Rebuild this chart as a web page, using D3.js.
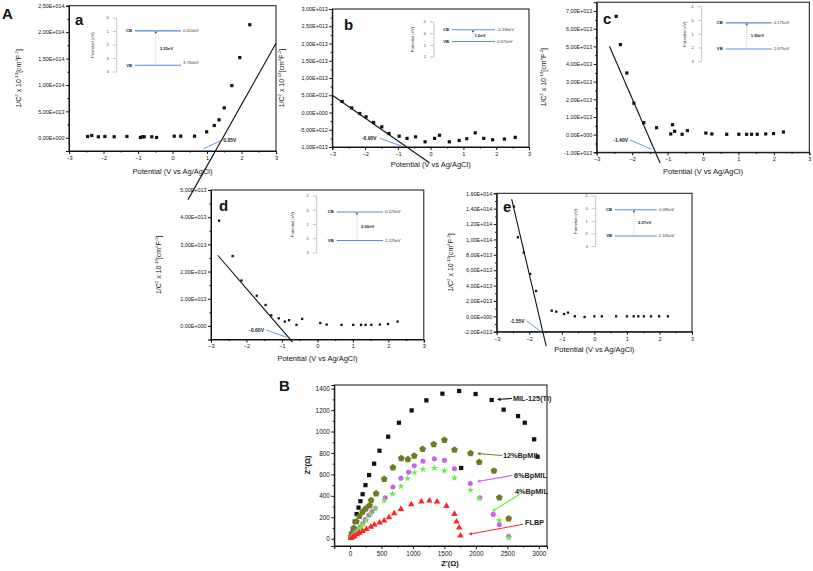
<!DOCTYPE html>
<html><head><meta charset="utf-8">
<script src="https://cdn.jsdelivr.net/npm/d3@7"></script>
<style>body{margin:0;background:#fff}svg{display:block}text{font-family:"Liberation Sans",Arial,sans-serif}</style>
</head><body><svg id="c" width="813" height="571"></svg>
<script>
// ---------------- DATA ----------------
const potTicks = [-3,-2,-1,0,1,2,3];
// panel a
const aX = [-2.46,-2.34,-2.15,-1.96,-1.69,-1.32,-0.93,-0.87,-0.82,-0.60,-0.46,0.05,0.24,0.64,0.99,1.21,1.35,1.50,1.72,1.95,2.24];
const aY = [2.5e12,4.4e12,1.9e12,2.5e12,1.9e12,2.5e12,0.6e12,1.9e12,1.9e12,1.9e12,0.6e12,3.1e12,3.1e12,3.1e12,11.3e12,23.3e12,34e12,56.7e12,98.9e12,151.8e12,214e12];
const aFit = [[0.45,-1.17e14],[3.0,1.79e14]];
// panel b
const bX = [-2.70,-2.41,-2.16,-1.97,-1.74,-1.49,-1.27,-0.96,-0.72,-0.46,-0.17,0.12,0.27,0.57,0.87,1.10,1.36,1.62,1.89,2.25,2.58];
const bY = [3.19e12,1.35e12,-0.29e12,-1.26e12,-2.9e12,-4.15e12,-6.1e12,-6.86e12,-7.5e12,-7.05e12,-8.5e12,-7.5e12,-6.6e12,-8.5e12,-8.1e12,-7.6e12,-5.9e12,-7.5e12,-7.9e12,-7.7e12,-7.2e12];
const bFit = [[-3,5.0e12],[-0.05,-14.5e12]];
// panel c
const cX = [-2.45,-2.33,-2.15,-1.95,-1.67,-1.31,-0.91,-0.86,-0.80,-0.59,-0.44,0.08,0.25,0.67,1.01,1.23,1.37,1.53,1.77,1.99,2.27];
const cY = [6.70e13,5.10e13,3.49e13,1.78e13,0.68e13,0.39e13,0.04e13,0.56e13,0.19e13,0.02e13,0.23e13,0.09e13,0.04e13,0.02e13,0.02e13,0.02e13,0.02e13,0.02e13,0.04e13,0.06e13,0.15e13];
const cFit = [[-2.64,5.01e13],[-1.21,-1.61e13]];
// panel d
const dX = [-2.77,-2.39,-2.14,-1.71,-1.46,-1.30,-1.09,-0.92,-0.80,-0.59,-0.43,0.08,0.26,0.68,1.01,1.23,1.36,1.52,1.76,1.99,2.26];
const dY = [3.87e13,2.57e13,1.67e13,1.11e13,0.77e13,0.39e13,0.28e13,0.16e13,0.21e13,0.04e13,0.26e13,0.11e13,0.05e13,0.04e13,0.04e13,0.04e13,0.04e13,0.04e13,0.05e13,0.07e13,0.16e13];
const dFit = [[-2.81,2.60e13],[-0.70,-0.6e13]];
// panel e
const eX = [-2.47,-2.35,-2.17,-1.97,-1.79,-1.31,-1.17,-0.93,-0.81,-0.60,-0.30,0.00,0.23,0.67,1.00,1.21,1.35,1.52,1.74,1.99,2.26];
const eY = [14.27e13,10.28e13,8.29e13,5.51e13,3.30e13,0.74e13,0.61e13,0.30e13,0.48e13,0,-0.09e13,0,0,0,0,0,0,0,0,0,0];
const eFit = [[-2.54,15.23e13],[-1.48,-3.86e13]];
// band diagrams (insets): CB / VB levels and labels
const bandCB = {a:0.95,b:-0.33,c:0.175,d:0.125,e:0.095};
const bandVB = {a:3.5,b:0.67,c:2.075,d:2.125,e:2.165};
const bandCBText = {a:"0.410eV",b:"-0.330eV",c:"0.175eV",d:"0.125eV",e:"0.095eV"};
const bandVBText = {a:"3.760eV",b:"0.670eV",c:"2.075eV",d:"2.125eV",e:"2.165eV"};
const bandGapText = {a:"3.35eV",b:"1.0eV",c:"1.90eV",d:"2.00eV",e:"2.07eV"};
const fbText = {a:"0.85V",b:"-0.90V",c:"-1.40V",d:"-0.60V",e:"-1.55V"};
// panel B (Nyquist)
const zxTicks = [0,500,1000,1500,2000,2500,3000];
const zyTicks = [0,200,400,600,800,1000,1200,1400];
const milX = [10,25,45,75,105,135,165,200,245,303,383,468,606,777,979,1213,1468,1734,1995,2250,2441,2670,2777,2926,2979,1766];
const milY = [15,40,90,160,230,290,350,415,500,594,700,821,952,1082,1197,1291,1353,1378,1350,1294,1204,1144,1082,927,765,660];
const pentX = [15,30,60,100,150,200,250,309,335,415,543,681,814,920,1021,1154,1330,1500,1660,1915,2053,2287,2372,2521];
const pentY = [20,50,100,160,210,250,280,308,358,420,557,663,750,740,774,837,880,921,830,796,715,634,383,187];
const circX = [20,50,80,120,160,200,240,300,346,399,559,681,809,931,1021,1159,1340,1500,1660,1910,2064,2277,2372,2521];
const circY = [10,30,55,80,110,140,180,220,252,283,383,482,563,619,681,722,746,731,653,516,383,227,131,22];
const starX = [20,50,80,120,160,200,260,330,400,543,676,809,915,1021,1159,1340,1500,1660,1915,2053,2372,2521];
const starY = [10,25,45,70,100,130,170,230,280,355,417,488,563,616,647,659,634,566,454,376,171,9];
const triX = [15,40,70,110,150,200,260,330,388,470,543,620,702,809,974,1133,1261,1383,1532,1660,1692,1734,1755];
const triY = [5,15,25,40,55,70,90,110,131,150,168,200,236,277,320,345,355,345,305,230,159,103,28];

// ---------------- HELPERS ----------------
const svg = d3.select("#c");
function sci(v){
  if (v===0) return "0,00E+000";
  const e = Math.floor(Math.log10(Math.abs(v))+1e-9);
  const m = v/Math.pow(10,e);
  return m.toFixed(2).replace(".",",")+"E"+(e<0?"-":"+")+String(Math.abs(e)).padStart(3,"0");
}
function range(a,b,s){const r=[];for(let v=a;v<=b+s*1e-6;v+=s)r.push(+v.toFixed(6)*1);return r;}
function yLabel(g,x,y,size){
  const t=g.append("text").attr("transform",`translate(${x},${y}) rotate(-90)`).attr("text-anchor","middle").attr("font-size",size).attr("fill","#111");
  const parts=[["1/C",0],["2",1],[" x 10",0],["-13",1],["[cm",0],["4",1],["F",0],["-2",1],["]",0]];
  let up=false;
  parts.forEach(([s,sup])=>{
    const ts=t.append("tspan").text(s);
    if(sup&&!up){ts.attr("dy",-size*0.4).attr("font-size",size*0.62);up=true;}
    else if(sup&&up){ts.attr("font-size",size*0.62);}
    else if(!sup&&up){ts.attr("dy",size*0.4);up=false;}
  });
}
function msPanel(cfg){
  const g = svg.append("g");
  const x = d3.scaleLinear().domain([-3,3]).range(cfg.xr);
  const y = d3.scaleLinear().domain(cfg.yd).range(cfg.yr);
  // frame
  g.append("rect").attr("x",cfg.xr[0]).attr("y",cfg.yr[1]).attr("width",cfg.xr[1]-cfg.xr[0]).attr("height",cfg.yr[0]-cfg.yr[1]).attr("fill","none").attr("stroke","#111").attr("stroke-width",1);
  // axes
  const ax = d3.axisBottom(x).tickValues(potTicks).tickSize(3).tickFormat(d3.format("d"));
  const axm = d3.axisBottom(x).tickValues(range(-2.5,2.5,1)).tickSize(1.6).tickFormat("");
  const gx = g.append("g").attr("transform",`translate(0,${cfg.yr[0]})`).call(ax);
  g.append("g").attr("transform",`translate(0,${cfg.yr[0]})`).call(axm).select(".domain").remove();
  const ay = d3.axisLeft(y).tickValues(cfg.yTicks).tickSize(3).tickFormat(sci);
  const aym = d3.axisLeft(y).tickValues(cfg.yMinor).tickSize(1.6).tickFormat("");
  const gy = g.append("g").attr("transform",`translate(${cfg.xr[0]},0)`).call(ay);
  g.append("g").attr("transform",`translate(${cfg.xr[0]},0)`).call(aym).select(".domain").remove();
  g.selectAll(".domain").attr("stroke","#111");
  g.selectAll(".tick line").attr("stroke","#111");
  gx.selectAll("text").attr("font-size",5.6).attr("fill","#111").attr("y",5);
  gy.selectAll("text").attr("font-size",5.4).attr("fill","#111").attr("x",-4.5);
  // labels
  g.append("text").attr("x",(cfg.xr[0]+cfg.xr[1])/2).attr("y",cfg.yr[0]+cfg.xlabDy).attr("text-anchor","middle").attr("font-size",7.5).attr("fill","#111").text("Potential (V vs Ag/AgCl)");
  yLabel(g,cfg.ylabX,(cfg.yr[0]+cfg.yr[1])/2,7);
  g.append("text").attr("x",cfg.letter[0]).attr("y",cfg.letter[1]).attr("font-size",15).attr("font-weight","bold").attr("fill","#111").text(cfg.id);
  // fit line
  g.append("line").attr("x1",x(cfg.fit[0][0])).attr("y1",y(cfg.fit[0][1])).attr("x2",x(cfg.fit[1][0])).attr("y2",y(cfg.fit[1][1])).attr("stroke","#111").attr("stroke-width",1.1);
  // points
  g.selectAll(".pt").data(cfg.xs.map((v,i)=>[v,cfg.ys[i]])).enter().append("rect")
    .attr("x",d=>x(d[0])-cfg.ms/2).attr("y",d=>y(d[1])-cfg.ms/2).attr("width",cfg.ms).attr("height",cfg.ms).attr("fill","#111");
  // flat-band annotation
  const an = cfg.ann;
  g.append("line").attr("x1",x(an.tail[0])).attr("y1",y(an.tail[1])).attr("x2",x(an.tip[0])).attr("y2",y(an.tip[1])).attr("stroke","#4f8fe0").attr("stroke-width",0.9);
  g.append("text").attr("x",x(an.tail[0])+an.dx).attr("y",y(an.tail[1])+1.8).attr("text-anchor",an.anchor).attr("font-size",5).attr("font-weight","bold").attr("fill","#222").text(fbText[cfg.id]);
  // inset
  const ins = cfg.inset;
  const iy = d3.scaleLinear().domain(ins.dom).range(ins.rng);
  const ig = g.append("g");
  ig.append("line").attr("x1",ins.ax).attr("x2",ins.ax).attr("y1",ins.rng[0]).attr("y2",ins.rng[1]).attr("stroke","#b8b8b8").attr("stroke-width",0.8);
  const iticks = range(ins.dom[0],ins.dom[1],1);
  ig.selectAll(".it").data(iticks).enter().append("line").attr("x1",ins.ax-4).attr("x2",ins.ax).attr("y1",d=>iy(d)).attr("y2",d=>iy(d)).attr("stroke","#b8b8b8").attr("stroke-width",0.8);
  ig.selectAll(".itl").data(iticks).enter().append("text").attr("x",ins.ax-8).attr("y",d=>iy(d)+1.4).attr("text-anchor","end").attr("font-size",4).attr("fill","#333").text(d=>d);
  ig.append("text").attr("transform",`translate(${ins.tx},${(ins.rng[0]+ins.rng[1])/2}) rotate(-90)`).attr("text-anchor","middle").attr("font-size",4.2).attr("fill","#333").text("Potential (eV)");
  [["CB",bandCB[cfg.id],bandCBText[cfg.id]],["VB",bandVB[cfg.id],bandVBText[cfg.id]]].forEach(([lab,v,txt],k)=>{
    ig.append("line").attr("x1",ins.l0).attr("x2",ins.l1).attr("y1",iy(v)).attr("y2",iy(v)).attr("stroke","#4f8fe0").attr("stroke-width",1.1);
    ig.append("text").attr("x",ins.l0-3).attr("y",iy(v)+1.4).attr("text-anchor","end").attr("font-size",4.2).attr("font-weight","bold").attr("fill","#222").text(lab);
    ig.append("text").attr("x",ins.l1+2).attr("y",iy(v)+1.4+(k===1?ins.vbDy:0)).attr("font-size",4.2).attr("fill","#333").text(txt);
  });
  ig.append("line").attr("x1",ins.dot).attr("x2",ins.dot).attr("y1",iy(bandCB[cfg.id])+1).attr("y2",iy(bandVB[cfg.id])).attr("stroke","#999").attr("stroke-width",0.5).attr("stroke-dasharray","1,1");
  ig.append("rect").attr("x",ins.dot-0.8).attr("y",iy(bandCB[cfg.id])+0.8).attr("width",1.6).attr("height",1.6).attr("fill","#333");
  ig.append("text").attr("x",ins.dot+ins.gdx).attr("y",(iy(bandCB[cfg.id])+iy(bandVB[cfg.id]))/2+1.5).attr("font-size",4.2).attr("font-weight","bold").attr("fill","#222").text(bandGapText[cfg.id]);
}

// ---------------- PANELS A ----------------
msPanel({id:"a",xs:aX,ys:aY,fit:aFit,ms:3.2,xr:[69,276],yr:[151,5.7],yd:[-2.5e13,2.5e14],
  yTicks:range(0,2.5e14,5e13),yMinor:[-2.5e13,2.5e13,7.5e13,1.25e14,1.75e14,2.25e14],
  xlabDy:23,ylabX:21,letter:[75,25],
  ann:{tail:[1.406,-5.1e12],tip:[0.893,-20.8e12],dx:2.3,anchor:"start"},
  inset:{ax:116.7,dom:[0,4],rng:[18,72],tx:94,l0:135,l1:181,dot:155.7,gdx:4,vbDy:-3}});
msPanel({id:"b",xs:bX,ys:bY,fit:bFit,ms:3.2,xr:[332.3,529],yr:[147,9],yd:[-1e13,3e13],
  yTicks:range(-1e13,3e13,5e12),yMinor:range(-7.5e12,2.75e13,5e12),
  xlabDy:20,ylabX:284,letter:[344,30],
  ann:{tail:[-1.545,-7.45e12],tip:[-0.883,-9.77e12],dx:-3.3,anchor:"end"},
  inset:{ax:434,dom:[-1,2],rng:[22,57],tx:414,l0:452,l1:495,dot:473,gdx:1.5,vbDy:0}});
msPanel({id:"c",xs:cX,ys:cY,fit:cFit,ms:3.2,xr:[596.7,809.3],yr:[152.3,2.2],yd:[-1e13,7.5e13],
  yTicks:range(-1e13,7e13,1e13),yMinor:range(-5e12,6.5e13,1e13),
  xlabDy:22,ylabX:546,letter:[603,24],
  ann:{tail:[-2.06,-3.06e12],tip:[-1.448,-8.3e12],dx:-2,anchor:"end"},
  inset:{ax:701.7,dom:[-1,3],rng:[6.7,61.7],tx:686,l0:725.7,l1:771.7,dot:746.7,gdx:4,vbDy:0}});
msPanel({id:"d",xs:dX,ys:dY,fit:dFit,ms:2.3,xr:[211,423.8],yr:[339.5,190],yd:[-5e12,5e13],
  yTicks:range(0,5e13,1e13),yMinor:range(-5e12,4.5e13,1e13),
  xlabDy:21,ylabX:161,letter:[219,211],
  ann:{tail:[-1.45,-1.5e12],tip:[-0.868,-4.2e12],dx:-2,anchor:"end"},
  inset:{ax:316.7,dom:[-1,3],rng:[196,253],tx:294.3,l0:336.7,l1:383,dot:357,gdx:4,vbDy:0}});
msPanel({id:"e",xs:eX,ys:eY,fit:eFit,ms:2.3,xr:[496.7,692],yr:[331.7,193.3],yd:[-2e13,1.6e14],
  yTicks:range(-2e13,1.6e14,2e13),yMinor:range(-1e13,1.5e14,2e13),
  xlabDy:20,ylabX:453,letter:[503,212],
  ann:{tail:[-2.08,-6.1e12],tip:[-1.67,-18.7e12],dx:-2,anchor:"end"},
  inset:{ax:595.7,dom:[-1,3],rng:[196,246.5],tx:576.7,l0:615,l1:656.7,dot:634,gdx:4,vbDy:0}});

svg.append("text").attr("x",2).attr("y",18.5).attr("font-size",15).attr("font-weight","bold").attr("fill","#111").text("A");

// ---------------- PANEL B ----------------
(function(){
  const g = svg.append("g");
  const xr=[334.3,547], yr=[546,385];
  const x = d3.scaleLinear().domain([-250,3130]).range(xr);
  const y = d3.scaleLinear().domain([-68,1434]).range(yr);
  g.append("rect").attr("x",xr[0]).attr("y",yr[1]).attr("width",xr[1]-xr[0]).attr("height",yr[0]-yr[1]).attr("fill","none").attr("stroke","#111").attr("stroke-width",1);
  const gx=g.append("g").attr("transform",`translate(0,${yr[0]})`).call(d3.axisBottom(x).tickValues(zxTicks).tickSize(3).tickFormat(d3.format("d")));
  g.append("g").attr("transform",`translate(0,${yr[0]})`).call(d3.axisBottom(x).tickValues([-250,250,750,1250,1750,2250,2750]).tickSize(1.6).tickFormat("")).select(".domain").remove();
  const gy=g.append("g").attr("transform",`translate(${xr[0]},0)`).call(d3.axisLeft(y).tickValues(zyTicks).tickSize(3).tickFormat(d3.format("d")));
  g.append("g").attr("transform",`translate(${xr[0]},0)`).call(d3.axisLeft(y).tickValues(range(100,1300,200)).tickSize(1.6).tickFormat("")).select(".domain").remove();
  g.selectAll(".domain,.tick line").attr("stroke","#111");
  gx.selectAll("text").attr("font-size",6.4).attr("fill","#111").attr("y",5.5);
  gy.selectAll("text").attr("font-size",6.4).attr("fill","#111").attr("x",-4.5);
  g.append("text").attr("x",450).attr("y",566).attr("text-anchor","middle").attr("font-size",7.5).attr("font-weight","bold").attr("fill","#111").text("Z'(Ω)");
  g.append("text").attr("transform","translate(310,465) rotate(-90)").attr("text-anchor","middle").attr("font-size",7.5).attr("font-weight","bold").attr("fill","#111").text("Z''(Ω)");
  svg.append("text").attr("x",279).attr("y",391).attr("font-size",15).attr("font-weight","bold").attr("fill","#111").text("B");
  const pent = {draw(ctx,size){const r=Math.sqrt(size/1.72);for(let i=0;i<5;i++){const a=-Math.PI/2+i*2*Math.PI/5;const px=r*Math.cos(a),py=r*Math.sin(a);i?ctx.lineTo(px,py):ctx.moveTo(px,py);}ctx.closePath();}};
  const series = [
    {xs:milX,ys:milY,c:"#111111",sym:d3.symbolSquare,s:18},
    {xs:pentX,ys:pentY,c:"#6e7b22",sym:pent,s:22},
    {xs:circX,ys:circY,c:"#cc5ee8",sym:d3.symbolCircle,s:20},
    {xs:starX,ys:starY,c:"#66ee44",sym:d3.symbolStar,s:16},
    {xs:triX,ys:triY,c:"#ff2424",sym:d3.symbolTriangle,s:18}
  ];
  series.forEach((s,k)=>{
    g.selectAll(".s"+k).data(s.xs.map((v,i)=>[v,s.ys[i]])).enter().append("path")
      .attr("transform",d=>`translate(${x(d[0])},${y(d[1])})`).attr("d",d3.symbol().type(s.sym).size(s.s)).attr("fill",s.c);
  });
  const anns = [
    {t:"MIL-125(Ti)",c:"#111",tx:513,ty:401,x1:512,y1:398.5,x2:497,y2:399.5},
    {t:"12%BpMIL",c:"#6e7b22",tx:503,ty:458,x1:502,y1:455.5,x2:477,y2:453.5},
    {t:"6%BpMIL",c:"#cc5ee8",tx:514,ty:478,x1:512,y1:475.5,x2:477,y2:481.5},
    {t:"4%BpMIL",c:"#66ee44",tx:515,ty:494,x1:520,y1:494,x2:492,y2:511.5},
    {t:"FLBP",c:"#ff2424",tx:525,ty:525,x1:523,y1:524.3,x2:468.5,y2:534.3}
  ];
  anns.forEach(a=>{
    const ang=Math.atan2(a.y2-a.y1,a.x2-a.x1);
    g.append("line").attr("x1",a.x1).attr("y1",a.y1).attr("x2",a.x2-Math.cos(ang)*3).attr("y2",a.y2-Math.sin(ang)*3).attr("stroke",a.c).attr("stroke-width",1.1);
    const h=3.5,w=1.8;
    const p=[[a.x2,a.y2],[a.x2-h*Math.cos(ang)+w*Math.sin(ang),a.y2-h*Math.sin(ang)-w*Math.cos(ang)],[a.x2-h*Math.cos(ang)-w*Math.sin(ang),a.y2-h*Math.sin(ang)+w*Math.cos(ang)]];
    g.append("path").attr("d","M"+p.map(q=>q.join(",")).join("L")+"Z").attr("fill",a.c);
    g.append("text").attr("x",a.tx).attr("y",a.ty).attr("font-size",7.3).attr("font-weight","bold").attr("fill","#222").text(a.t);
  });
})();
</script></body></html>
